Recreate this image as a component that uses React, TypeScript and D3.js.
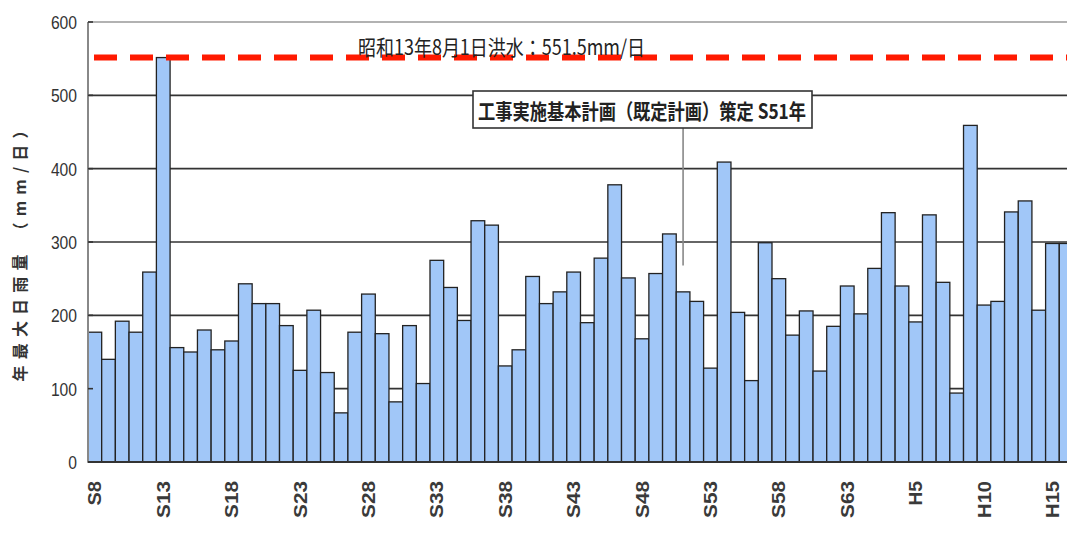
import * as d3 from "d3";

// 年最大日雨量 (mm/日), S8 - H16
const years = [
  "S8", "S9", "S10", "S11", "S12", "S13", "S14", "S15", "S16", "S17",
  "S18", "S19", "S20", "S21", "S22", "S23", "S24", "S25", "S26", "S27",
  "S28", "S29", "S30", "S31", "S32", "S33", "S34", "S35", "S36", "S37",
  "S38", "S39", "S40", "S41", "S42", "S43", "S44", "S45", "S46", "S47",
  "S48", "S49", "S50", "S51", "S52", "S53", "S54", "S55", "S56", "S57",
  "S58", "S59", "S60", "S61", "S62", "S63", "H1", "H2", "H3", "H4",
  "H5", "H6", "H7", "H8", "H9", "H10", "H11", "H12", "H13", "H14",
  "H15", "H16",
];

const rainfall = [
  177, 140, 192, 177, 259, 551.5, 156, 150, 180, 153,
  165, 243, 216, 216, 186, 125, 207, 122, 67, 177,
  229, 175, 82, 186, 107, 275, 238, 193, 329, 323,
  131, 153, 253, 216, 232, 259, 190, 278, 378, 251,
  168, 257, 311, 232, 219, 128, 409, 204, 111, 299,
  250, 173, 206, 124, 185, 240, 202, 264, 340, 240,
  191, 337, 245, 94, 459, 214, 219, 341, 356, 207,
  298, 298,
];

const tickYears = ["S8", "S13", "S18", "S23", "S28", "S33", "S38", "S43", "S48", "S53", "S58", "S63", "H5", "H10", "H15"];
const yTicks = [0, 100, 200, 300, 400, 500, 600];

const floodValue = 551.5;
const floodLabel = "昭和13年8月1日洪水：551.5mm/日";
const planYear = "S51";
const planLabel = "工事実施基本計画（既定計画）策定 S51年";
const planLeaderEnd = 268;

const W = 1067;
const H = 547;
const left = 88;
const top = 22;
const bottom = 462;
const step = 13.68;

const cjk = "'Noto Sans CJK JP', 'Noto Sans', sans-serif";
const sans = "'Liberation Sans', Arial, sans-serif";

export default function App() {
  const x = d3
    .scaleBand<string>()
    .domain(years)
    .range([left, left + years.length * step])
    .padding(0);

  const y = d3.scaleLinear().domain([0, 600]).range([bottom, top]);

  const planX = (x(planYear) ?? 0) + x.bandwidth() / 2;

  return (
    <div style={{ position: "absolute", left: 0, top: 0 }}>
      <svg width={W} height={H} style={{ display: "block", background: "#fff" }}>
        {/* grid */}
        {yTicks.slice(1, -1).map((t) => (
          <line key={t} x1={left} x2={W} y1={y(t)} y2={y(t)} stroke="#333" strokeWidth={1.6} />
        ))}
        <line x1={left} x2={W} y1={y(600)} y2={y(600)} stroke="#999" strokeWidth={1.6} />

        {/* bars */}
        {rainfall.map((v, i) => (
          <rect
            key={years[i]}
            x={x(years[i])}
            y={y(v)}
            width={x.bandwidth()}
            height={y(0) - y(v)}
            fill="#a1c7f8"
            stroke="#222"
            strokeWidth={1.3}
          />
        ))}

        {/* axes */}
        <line x1={left} x2={left} y1={y(600)} y2={y(0)} stroke="#888" strokeWidth={2} />
        {yTicks.map((t) => (
          <line key={t} x1={left} x2={left + 5} y1={y(t)} y2={y(t)} stroke="#333" strokeWidth={1.6} />
        ))}
        <line x1={left} x2={W} y1={y(0)} y2={y(0)} stroke="#333" strokeWidth={2} />

        {yTicks.map((t) => (
          <text
            key={t}
            x={77}
            y={y(t)}
            dy="0.36em"
            textAnchor="end"
            fontFamily={sans}
            fontSize={19}
            fill="#333"
            textLength={String(t).length * 8.7}
            lengthAdjust="spacingAndGlyphs"
          >
            {t}
          </text>
        ))}

        {tickYears.map((lab) => (
          <text
            key={lab}
            transform={`translate(${(x(lab) ?? 0) + x.bandwidth() / 2},481) rotate(-90)`}
            dy="0.36em"
            textAnchor="end"
            fontFamily={sans}
            fontWeight="bold"
            fontSize={18}
            fill="#3a3a3a"
            textLength={lab.length * 12.3}
            lengthAdjust="spacingAndGlyphs"
          >
            {lab}
          </text>
        ))}

        <text
          transform="translate(20,252) rotate(-90)"
          dy="0.36em"
          textAnchor="middle"
          fontFamily={cjk}
          fontWeight="bold"
          fontSize={16}
          fill="#333"
          textLength={259}
          lengthAdjust="spacing"
        >
          年最大日雨量 （mm/日）
        </text>

        {/* flood line */}
        <line
          x1={94}
          x2={W}
          y1={y(floodValue)}
          y2={y(floodValue)}
          stroke="#ff1a00"
          strokeWidth={6}
          strokeDasharray="23 13"
        />
        <text
          x={358}
          y={55}
          fontFamily={cjk}
          fontSize={21}
          fill="#222"
          textLength={287}
          lengthAdjust="spacingAndGlyphs"
        >
          {floodLabel}
        </text>

        {/* plan annotation */}
        <line x1={planX} x2={planX} y1={128} y2={y(planLeaderEnd)} stroke="#888" strokeWidth={1.6} />
        <rect x={473} y={91} width={339} height={37} fill="#fff" stroke="#333" strokeWidth={1.6} />
        <text
          x={478}
          y={119}
          fontFamily={cjk}
          fontWeight="bold"
          fontSize={21}
          fill="#222"
          textLength={328}
          lengthAdjust="spacingAndGlyphs"
        >
          {planLabel}
        </text>
      </svg>
    </div>
  );
}
